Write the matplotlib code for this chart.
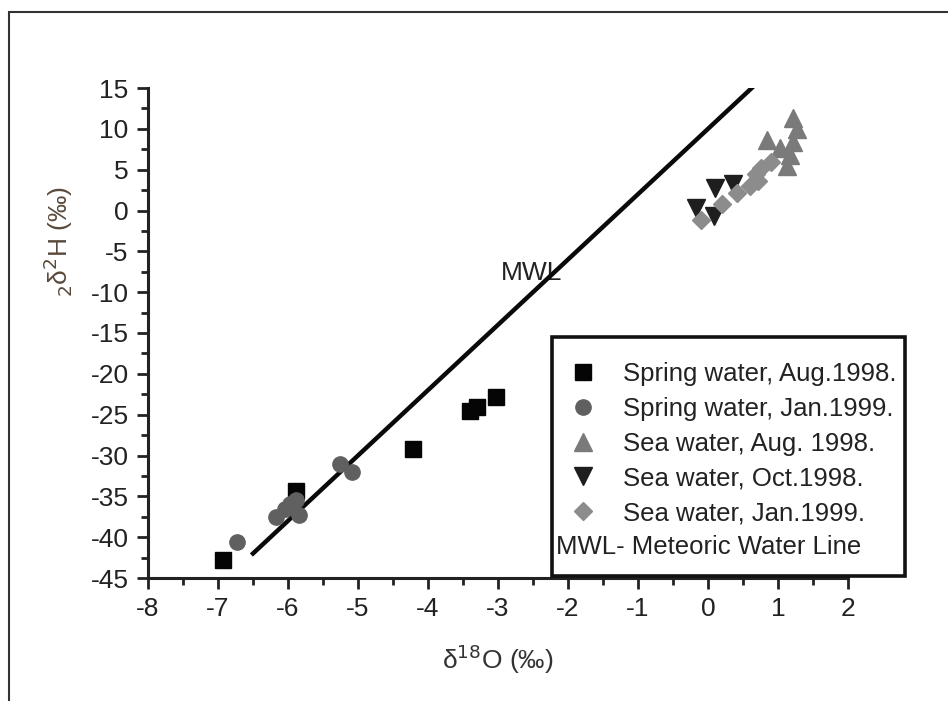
import matplotlib
matplotlib.use("Agg")
import matplotlib.pyplot as plt
from matplotlib.patches import Rectangle
from matplotlib.lines import Line2D
from matplotlib.ticker import MultipleLocator

plt.rcParams['font.family'] = ['Liberation Sans', 'DejaVu Sans']

# ---- data ----
spring_aug98_x = [-6.93, -5.89, -4.21, -3.40, -3.30, -3.03]
spring_aug98_y = [-42.8, -34.4, -29.2, -24.6, -24.1, -22.8]

spring_jan99_x = [-6.73, -6.17, -6.05, -5.97, -5.88, -5.84, -5.26, -5.09]
spring_jan99_y = [-40.6, -37.5, -36.6, -35.9, -35.4, -37.3, -31.0, -32.0]

sea_aug98_x = [0.84, 1.03, 1.13, 1.17, 1.21, 1.27, 1.22]
sea_aug98_y = [8.6, 7.6, 5.5, 6.8, 8.4, 10.0, 11.3]

sea_oct98_x = [-0.17, 0.08, 0.10, 0.35]
sea_oct98_y = [0.3, -0.7, 2.8, 3.3]

sea_jan99_x = [-0.10, 0.20, 0.42, 0.60, 0.72, 0.68, 0.75, 0.90]
sea_jan99_y = [-1.2, 0.8, 2.2, 3.0, 3.6, 4.5, 5.2, 6.0]

mwl_x = [-6.5, 0.65]
mwl_y = [-42.0, 15.2]

x_ticks = [-8, -7, -6, -5, -4, -3, -2, -1, 0, 1, 2]
y_ticks = [15, 10, 5, 0, -5, -10, -15, -20, -25, -30, -35, -40, -45]

labels = ["Spring water, Aug.1998.", "Spring water, Jan.1999.",
          "Sea water, Aug. 1998.", "Sea water, Oct.1998.", "Sea water, Jan.1999."]

W, H = 948, 701
fig = plt.figure(figsize=(W / 100, H / 100), dpi=100)
ax = fig.add_axes([148 / W, 1 - 578 / H, 700 / W, 490 / H])

c_sq, c_ci, c_tu, c_td, c_di = '#050505', '#606060', '#7a7a7a', '#1e1e1e', '#8c8c8c'

ax.plot(mwl_x, mwl_y, color='#0a0a0a', lw=3.2, zorder=2)
ax.plot(spring_aug98_x, spring_aug98_y, 's', color=c_sq, ms=11.5, ls='none', zorder=3)
ax.plot(spring_jan99_x, spring_jan99_y, 'o', color=c_ci, ms=11, ls='none', zorder=3)
ax.plot(sea_aug98_x, sea_aug98_y, '^', color=c_tu, ms=13, ls='none', zorder=3)
ax.plot(sea_oct98_x, sea_oct98_y, 'v', color=c_td, ms=13, ls='none', zorder=3)
ax.plot(sea_jan99_x, sea_jan99_y, 'D', color=c_di, ms=9, ls='none', zorder=3)

ax.text(-2.52, -7.6, "MWL", fontsize=19, ha='center', va='center', color='#222222', zorder=1)

ax.set_xlim(-8, 2)
ax.set_ylim(-45, 15)
ax.set_xticks(x_ticks)
ax.set_yticks(y_ticks)
ax.set_xticklabels([str(v) for v in x_ticks])
ax.set_yticklabels([str(v) for v in y_ticks])
ax.xaxis.set_minor_locator(MultipleLocator(0.5))
ax.yaxis.set_minor_locator(MultipleLocator(2.5))
for s in ['top', 'right']:
    ax.spines[s].set_visible(False)
for s in ['left', 'bottom']:
    ax.spines[s].set_linewidth(2.2)
    ax.spines[s].set_color('#222222')
ax.tick_params(which='major', direction='out', length=8, width=2, color='#222222',
               labelsize=19, labelcolor='#222222', pad=6)
ax.tick_params(which='minor', direction='out', length=5, width=2, color='#222222')

ax.set_xlabel("δ$^{18}$O (‰)", fontsize=19, color='#333333')
ax.xaxis.set_label_coords((498 - 148) / 700, -(642 - 578) / 490)
ax.set_ylabel("$_2$δ$^2$H (‰)", fontsize=19, color='#5a4a3c')
ax.yaxis.set_label_coords((75 - 148) / 700, (578 - 242) / 490)

# legend
handles = [
    Line2D([], [], marker='s', color=c_sq, ls='none', ms=11),
    Line2D([], [], marker='o', color=c_ci, ls='none', ms=11),
    Line2D([], [], marker='^', color=c_tu, ls='none', ms=13),
    Line2D([], [], marker='v', color=c_td, ls='none', ms=13),
    Line2D([], [], marker='D', color=c_di, ls='none', ms=9),
]
leg = fig.legend(handles, labels, loc='upper left', bbox_to_anchor=(567.5 / W, 1 - 362 / H),
                 frameon=False, fontsize=18.5, labelspacing=0.42, handletextpad=0.96,
                 handlelength=1.2, borderaxespad=0, borderpad=0, labelcolor='#222222')

box = Rectangle((552 / W, 1 - 576 / H), (905 - 552) / W, (576 - 337) / H,
                transform=fig.transFigure, fill=False, edgecolor='#111111', lw=2.6, zorder=5)
fig.patches.append(box)
fig.text(556 / W, 1 - 547 / H, "MWL- Meteoric Water Line", fontsize=18.5,
         color='#222222', ha='left', va='center')

# outer frame
frame = Rectangle((9 / W, -0.1), 1.2, 1 - 12 / H + 0.1, transform=fig.transFigure,
                  fill=False, edgecolor='#333333', lw=1.5)
fig.patches.append(frame)

fig.savefig("out.png", dpi=100)
